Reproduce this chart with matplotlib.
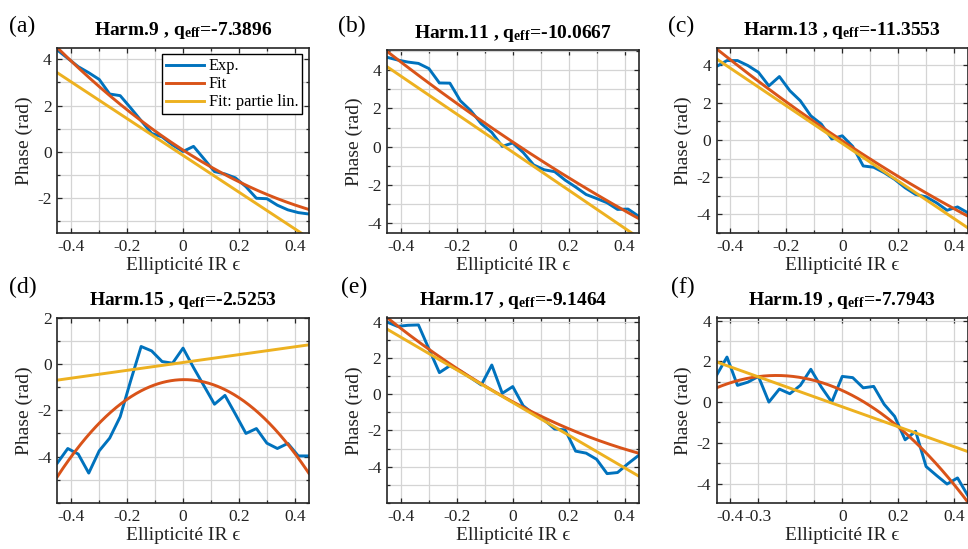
import numpy as np
import matplotlib
matplotlib.use("Agg")
import matplotlib.pyplot as plt
from matplotlib.ticker import MultipleLocator, FixedLocator

plt.rcParams['font.family'] = ['Liberation Serif', 'DejaVu Serif']
plt.rcParams['mathtext.fontset'] = 'custom'
plt.rcParams['mathtext.rm'] = 'Liberation Serif'
plt.rcParams['mathtext.it'] = 'Liberation Serif:italic'
plt.rcParams['mathtext.bf'] = 'Liberation Serif:bold'
plt.rcParams['mathtext.fallback'] = 'stix'
plt.rcParams['axes.unicode_minus'] = False

# ---------------- data ----------------
eps = [-0.45, -0.4125, -0.375, -0.3375, -0.3, -0.2625, -0.225, -0.1875, -0.15,
       -0.1125, -0.075, -0.0375, 0.0, 0.0375, 0.075, 0.1125, 0.15, 0.1875,
       0.225, 0.2625, 0.3, 0.3375, 0.375, 0.4125, 0.45]

harmonics = [9, 11, 13, 15, 17, 19]
q_eff = ["-7.3896", "-10.0667", "-11.3553", "-2.5253", "-9.1464", "-7.7943"]
panel_tags = ["(a)", "(b)", "(c)", "(d)", "(e)", "(f)"]

phase_h9 = [4.40, 4.04, 3.68, 3.42, 3.13, 2.50, 2.43, 1.90, 1.35, 0.80, 0.65, 0.30,
            0.02, 0.24, -0.30, -0.85, -0.95, -1.12, -1.50, -2.00, -2.02, -2.30,
            -2.50, -2.62, -2.68]
phase_h11 = [4.67, 4.53, 4.42, 4.35, 4.08, 3.33, 3.32, 2.40, 1.88, 1.20, 0.75, 0.02,
             0.20, -0.30, -0.95, -1.20, -1.30, -1.74, -2.10, -2.49, -2.70, -2.92,
             -3.27, -3.25, -3.62]
phase_h13 = [3.94, 4.26, 4.26, 3.99, 3.63, 2.90, 3.40, 2.64, 2.10, 1.29, 0.85, 0.05,
             0.22, -0.35, -1.40, -1.47, -1.76, -2.12, -2.57, -2.93, -3.06, -3.38,
             -3.78, -3.60, -3.92]
phase_h15 = [-4.28, -3.65, -3.89, -4.71, -3.75, -3.20, -2.28, -0.73, 0.75, 0.56, 0.10,
             0.03, 0.68, -0.16, -0.95, -1.74, -1.36, -2.17, -3.00, -2.79, -3.42,
             -3.65, -3.43, -3.97, -3.97]
phase_h17 = [3.98, 3.74, 3.80, 3.82, 2.50, 1.19, 1.57, 1.28, 0.90, 0.51, 1.61, 0.05,
             0.42, -0.64, -1.09, -1.42, -1.92, -1.97, -3.14, -3.25, -3.59, -4.38,
             -4.32, -3.83, -3.38]
phase_h19 = [1.31, 2.21, 0.82, 0.98, 1.26, 0.00, 0.64, 0.41, 0.82, 1.61, 0.74, 0.00,
             1.26, 1.20, 0.70, 0.77, -0.11, -0.70, -1.85, -1.43, -3.16, -3.60,
             -4.02, -3.72, -4.60]
phases = [phase_h9, phase_h11, phase_h13, phase_h15, phase_h17, phase_h19]

# quadratic fit coefficients: a*eps^2 + b*eps + c
fit_a = [4.59, 1.83, 2.20, -20.3, 4.49, -13.23]
fit_b = [-7.76, -9.69, -9.99, 0.17, -8.31, -6.24]
fit_c = [0.08, 0.25, -0.05, -0.68, -0.42, 0.57]
# linear part
lin_slope = [-7.93, -9.91, -10.09, 1.69, -9.00, -4.89]
lin_const = [-0.15, -0.28, -0.19, 0.06, -0.46, -0.23]

y_limits = [(-3.5, 4.5), (-4.5, 5.05), (-5.0, 4.95), (-6.0, 2.0), (-6.0, 4.23), (-4.95, 4.15)]
y_ticks = [[-2, 0, 2, 4], [-4, -2, 0, 2, 4], [-4, -2, 0, 2, 4], [-4, -2, 0, 2],
           [-4, -2, 0, 2, 4], [-4, -2, 0, 2, 4]]
x_ticks = [[-0.4, -0.2, 0, 0.2, 0.4]] * 5 + [[-0.4, -0.3, 0, 0.2, 0.4]]

# ---------------- figure ----------------
W, H = 968, 549
fig = plt.figure(figsize=(W / 100, H / 100), dpi=100)

lefts = [57.3, 387.0, 716.5]
right_w = 251.5
row_top = [[47.7, 50.0, 47.7], [317.5, 317.5, 317.5]]
row_bot = [233.0, 503.0]

c_exp = '#0072BD'
c_fit = '#D95319'
c_lin = '#EDB120'
axcol = '#262626'

xf = np.linspace(-0.45, 0.45, 300)

for k in range(6):
    r, c = divmod(k, 3)
    top = row_top[r][c]
    bot = row_bot[r]
    ax = fig.add_axes([lefts[c] / W, 1 - bot / H, right_w / W, (bot - top) / H])
    ax.set_axisbelow(True)

    l1, = ax.plot(eps, phases[k], color=c_exp, lw=2.1, label='Exp.')
    l2, = ax.plot(xf, fit_a[k] * xf**2 + fit_b[k] * xf + fit_c[k], color=c_fit, lw=2.1, label='Fit')
    l3, = ax.plot(xf, lin_slope[k] * xf + lin_const[k], color=c_lin, lw=2.1, label='Fit: partie lin.')

    ax.set_xlim(-0.45, 0.45)
    ax.set_ylim(*y_limits[k])
    ax.xaxis.set_major_locator(FixedLocator(x_ticks[k]))
    ax.xaxis.set_minor_locator(MultipleLocator(0.1))
    ax.yaxis.set_major_locator(FixedLocator(y_ticks[k]))
    ax.yaxis.set_minor_locator(MultipleLocator(1))
    ax.set_xticklabels([('%g' % t) for t in x_ticks[k]])
    ax.set_yticklabels([('%g' % t) for t in y_ticks[k]])
    ax.grid(True, which='both', color='#d4d4d4', lw=0.9)
    ax.tick_params(which='both', direction='in', top=True, right=True,
                   colors=axcol, labelcolor='#222222', labelsize=12.5, width=0.9)
    ax.tick_params(which='major', length=3.5, pad=4)
    ax.tick_params(which='minor', length=2.2)
    for s in ax.spines.values():
        s.set_color(axcol)
        s.set_linewidth(1.2)

    ax.set_xlabel('Ellipticit\u00e9 IR \u03f5', fontsize=14, labelpad=2, color='#222222')
    ax.set_ylabel('Phase (rad)', fontsize=14, labelpad=3, color='#222222')
    ax.set_title('Harm.%d , q$_{\\mathbf{eff}}$=%s' % (harmonics[k], q_eff[k]),
                 fontsize=14, fontweight='bold', pad=9)

    if k == 0:
        leg = ax.legend(handles=[l1, l2, l3], loc='upper right', fontsize=11.8,
                        frameon=True, fancybox=False, edgecolor='#000000',
                        handlelength=2.3, handletextpad=0.3, labelspacing=0.12,
                        borderpad=0.25, borderaxespad=0.4, framealpha=1)
        leg.get_frame().set_linewidth(1.0)

tag_pos = [(22, 26), (352, 26), (681, 26), (23, 287), (354, 287), (683, 287)]
for k, (px, py) in enumerate(tag_pos):
    fig.text(px / W, 1 - py / H, panel_tags[k], fontsize=17, ha='center', va='center')

fig.savefig('out.png', dpi=100)
